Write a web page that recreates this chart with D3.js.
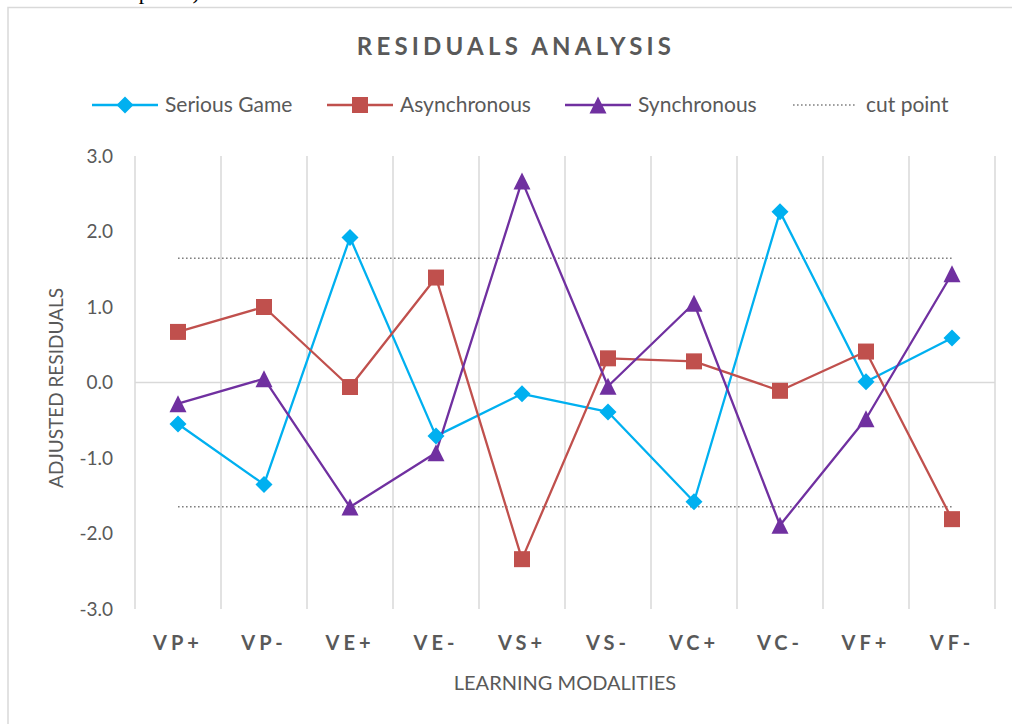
<!DOCTYPE html>
<html>
<head>
<meta charset="utf-8">
<script src="https://cdn.jsdelivr.net/npm/d3@7"></script>
<style>
  body { margin: 0; background: #fff; }
  svg { display: block; font-family: Lato, "Open Sans", sans-serif; }
</style>
</head>
<body>
<div id="chart"></div>
<script>
// chart data
var categories = ["VP+", "VP-", "VE+", "VE-", "VS+", "VS-", "VC+", "VC-", "VF+", "VF-"];
var seriousGame = [-0.55, -1.35, 1.92, -0.71, -0.15, -0.39, -1.58, 2.26, 0.01, 0.59];
var asynchronous = [0.67, 1.00, -0.06, 1.39, -2.34, 0.32, 0.28, -0.11, 0.41, -1.81];
var synchronous = [-0.28, 0.05, -1.65, -0.93, 2.67, -0.05, 1.05, -1.89, -0.48, 1.44];
var cutPoint = 1.645;
var yTicks = [-3, -2, -1, 0, 1, 2, 3];
var seriesNames = ["Serious Game", "Asynchronous", "Synchronous"];

var width = 1012, height = 724;
var margin = { top: 156, right: 17, bottom: 115, left: 135 };
var plotW = width - margin.left - margin.right;
var plotH = height - margin.top - margin.bottom;

var svg = d3.select("#chart").append("svg")
  .attr("width", width)
  .attr("height", height);

// cut-off line of text from the page above the chart
svg.append("text")
  .attr("x", 30).attr("y", -1)
  .attr("font-family", "Liberation Serif, serif")
  .attr("font-size", 22)
  .attr("fill", "#000")
  .text("the relevant points)");

// chart frame
svg.append("path")
  .attr("d", "M8,724 V7.5 H1012")
  .attr("fill", "none")
  .attr("stroke", "#d9d9d9")
  .attr("stroke-width", 1.5);

var x = d3.scaleBand().domain(categories).range([0, plotW]);
var y = d3.scaleLinear().domain([-3, 3]).range([plotH, 0]);

var g = svg.append("g").attr("transform", "translate(" + margin.left + "," + margin.top + ")");

// vertical gridlines at category boundaries
var bounds = categories.map(function (c) { return x(c); }).concat([plotW]);
g.selectAll(".vgrid")
  .data(bounds)
  .enter().append("line")
  .attr("class", "vgrid")
  .attr("x1", function (d) { return d; })
  .attr("x2", function (d) { return d; })
  .attr("y1", 0).attr("y2", plotH)
  .attr("stroke", "#d9d9d9")
  .attr("stroke-width", 1.5);

// zero line
g.append("line")
  .attr("x1", 0).attr("x2", plotW)
  .attr("y1", y(0)).attr("y2", y(0))
  .attr("stroke", "#d9d9d9")
  .attr("stroke-width", 1.5);

// y axis, plain hyphen for the minus sign
var fmt = d3.format(".1f");
var yAxis = g.append("g")
  .attr("transform", "translate(-22,0)")
  .call(d3.axisLeft(y).tickValues(yTicks).tickSize(0)
    .tickFormat(function (d) { return fmt(d).replace("\u2212", "-"); }));
yAxis.select(".domain").remove();
yAxis.selectAll("text")
  .attr("font-family", "Lato, sans-serif")
  .attr("font-size", 19)
  .attr("fill", "#595959")
  .attr("x", 0);

// x axis labels
var xAxis = g.append("g")
  .attr("transform", "translate(0," + (plotH + 24) + ")")
  .call(d3.axisBottom(x).tickSize(0));
xAxis.select(".domain").remove();
xAxis.selectAll("text")
  .attr("font-family", "Lato, sans-serif")
  .attr("font-size", 20)
  .attr("font-weight", "bold")
  .attr("letter-spacing", "4px")
  .attr("fill", "#595959");

// axis titles
svg.append("text")
  .attr("transform", "translate(63,388) rotate(-90)")
  .attr("text-anchor", "middle")
  .attr("font-size", 19)
  .attr("fill", "#595959")
  .text("ADJUSTED RESIDUALS");

svg.append("text")
  .attr("x", margin.left + plotW / 2)
  .attr("y", 690)
  .attr("text-anchor", "middle")
  .attr("font-size", 20)
  .attr("fill", "#595959")
  .text("LEARNING MODALITIES");

// title
svg.append("text")
  .attr("x", 516)
  .attr("y", 55)
  .attr("text-anchor", "middle")
  .attr("font-size", 24)
  .attr("font-weight", "bold")
  .attr("letter-spacing", "4.2px")
  .attr("fill", "#595959")
  .text("RESIDUALS ANALYSIS");

// cut point lines
var cx = function (c) { return x(c) + x.bandwidth() / 2; };
var line = d3.line()
  .x(function (d, i) { return cx(categories[i]); })
  .y(function (d) { return y(d); });

[cutPoint, -cutPoint].forEach(function (v) {
  g.append("path")
    .datum(categories.map(function () { return v; }))
    .attr("d", line)
    .attr("fill", "none")
    .attr("stroke", "#808080")
    .attr("stroke-width", 1.6)
    .attr("stroke-dasharray", "1.6,2.4");
});

// marker shapes
function diamond(s) { return "M0," + (-s) + "L" + s + ",0L0," + s + "L" + (-s) + ",0Z"; }
function square(s) { return "M" + (-s) + "," + (-s) + "h" + (2 * s) + "v" + (2 * s) + "h" + (-2 * s) + "Z"; }
function triangle(s) { return "M0," + (-s) + "L" + s + "," + s + "L" + (-s) + "," + s + "Z"; }

var series = [
  { name: seriesNames[0], values: seriousGame, color: "#00B0F0", marker: diamond(8.5) },
  { name: seriesNames[1], values: asynchronous, color: "#C0504D", marker: square(8) },
  { name: seriesNames[2], values: synchronous, color: "#7030A0", marker: triangle(8.5) }
];

series.forEach(function (s) {
  g.append("path")
    .datum(s.values)
    .attr("d", line)
    .attr("fill", "none")
    .attr("stroke", s.color)
    .attr("stroke-width", 2.3)
    .attr("stroke-linejoin", "round");
});

series.forEach(function (s) {
  g.selectAll(null)
    .data(s.values)
    .enter().append("path")
    .attr("d", s.marker)
    .attr("transform", function (d, i) { return "translate(" + cx(categories[i]) + "," + y(d) + ")"; })
    .attr("fill", s.color);
});

// legend
var legendY = 105;
var legendItems = [
  { x: 92, s: series[0] },
  { x: 327, s: series[1] },
  { x: 565, s: series[2] }
];
legendItems.forEach(function (it) {
  var lg = svg.append("g").attr("transform", "translate(" + it.x + "," + legendY + ")");
  lg.append("line")
    .attr("x1", 0).attr("x2", 66)
    .attr("stroke", it.s.color)
    .attr("stroke-width", 2.3);
  lg.append("path")
    .attr("d", it.s.marker)
    .attr("transform", "translate(33,0)")
    .attr("fill", it.s.color);
  lg.append("text")
    .attr("x", 73).attr("y", 7)
    .attr("font-size", 21)
    .attr("fill", "#595959")
    .text(it.s.name);
});
var cutLg = svg.append("g").attr("transform", "translate(793," + legendY + ")");
cutLg.append("line")
  .attr("x1", 0).attr("x2", 64)
  .attr("stroke", "#808080")
  .attr("stroke-width", 1.6)
  .attr("stroke-dasharray", "1.6,2.4");
cutLg.append("text")
  .attr("x", 73).attr("y", 7)
  .attr("font-size", 21)
  .attr("fill", "#595959")
  .text("cut point");
</script>
</body>
</html>
